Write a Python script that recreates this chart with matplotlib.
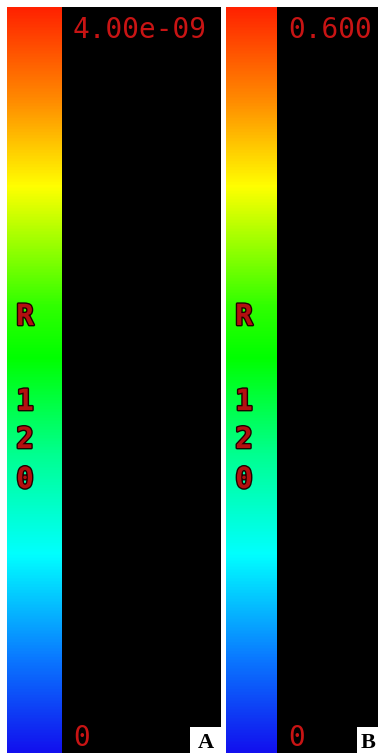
import numpy as np
import matplotlib
matplotlib.use("Agg")
import matplotlib.pyplot as plt
from matplotlib.colors import LinearSegmentedColormap, Normalize
from matplotlib.patches import Rectangle
import matplotlib.patheffects as pe

# panel data
panel_names = ["A", "B"]
vmin_values = [0.0, 0.0]
vmax_values = [4.00e-09, 0.600]
top_formats = ["{:.2e}", "{:.3f}"]
side_letters = ["R", "1", "2", "0"]

# rainbow colour scale (bottom -> top)
cmap_stops = [0.0, 0.125, 0.265, 0.40, 0.53, 0.60, 0.76, 0.875, 1.0]
cmap_colors = ["#1210ee", "#0a78ff", "#00ffff", "#00ff90", "#00ff00", "#30ff00",
               "#ffff00", "#ff8c00", "#ff2200"]
cmap = LinearSegmentedColormap.from_list("rainbow_bar", list(zip(cmap_stops, cmap_colors)))

W, H = 378, 753
fig = plt.figure(figsize=(W / 100, H / 100), dpi=100)
fig.patch.set_facecolor("white")

# pixel layout: (panel left, panel right, bar width)
layout = [(7, 221, 55), (226, 378, 51)]
top = 7
txt_color = "#c81414"
outline = [pe.withStroke(linewidth=2, foreground="#200000")]


def fx(px):
    return px / W


def fy(py):
    return 1 - py / H


for name, vmin, vmax, fmt, (left, right, bw) in zip(panel_names, vmin_values, vmax_values,
                                                    top_formats, layout):
    ax = fig.add_axes([fx(left), 0, (right - left) / W, (H - top) / H])
    ax.set_facecolor("black")
    ax.set_xticks([])
    ax.set_yticks([])
    for s in ax.spines.values():
        s.set_visible(False)

    cax = fig.add_axes([fx(left), 0, bw / W, (H - top) / H])
    grad = np.linspace(vmin, vmax, 512).reshape(-1, 1)
    cax.imshow(grad, aspect="auto", origin="lower", cmap=cmap,
               norm=Normalize(vmin, vmax), interpolation="bilinear")
    cax.set_xticks([])
    cax.set_yticks([])
    for s in cax.spines.values():
        s.set_visible(False)

    # top / bottom value labels
    fig.text(fx(left + bw + 11), fy(38), fmt.format(vmax), color=txt_color,
             fontsize=20, family="DejaVu Sans Mono", va="baseline", ha="left")
    fig.text(fx(left + bw + 11), fy(746), "{:g}".format(vmin), color=txt_color,
             fontsize=20, family="DejaVu Sans Mono", va="baseline", ha="left")

    # vertical letters on the bar
    for letter, base in zip(side_letters, [325, 410, 448, 488]):
        fig.text(fx(left + 18), fy(base), letter, color="#b41010", fontsize=21,
                 family="DejaVu Sans Mono", weight="bold", va="baseline", ha="center",
                 path_effects=outline)

    # panel tag in white box
    box_w = 31 if name == "A" else 21
    fig.patches.append(Rectangle((fx(right - box_w), 0), box_w / W, 26 / H,
                                 transform=fig.transFigure, facecolor="white",
                                 edgecolor="none", zorder=5))
    fig.text(fx(right - box_w / 2 + (0 if name == "A" else 1)), fy(748), name, color="black",
             fontsize=16, family="Liberation Serif", weight="bold",
             va="baseline", ha="center", zorder=6)

fig.savefig("out.png", dpi=100, facecolor="white")
